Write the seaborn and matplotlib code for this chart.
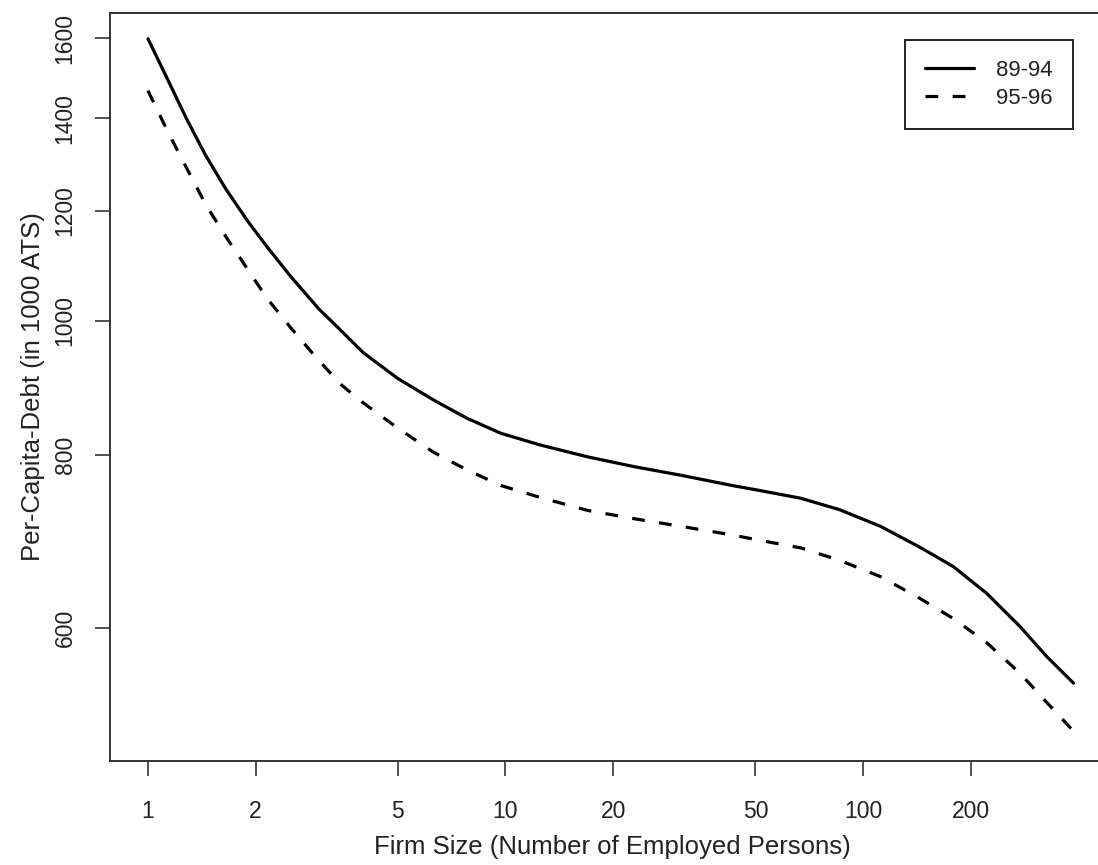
import numpy as np
import pandas as pd
import matplotlib
matplotlib.use('Agg')
import matplotlib.pyplot as plt
from matplotlib.ticker import NullLocator, FixedLocator, FixedFormatter
import seaborn as sns

# firm size (number of employed persons) at which the curves were read
firm_size = [1, 1.13, 1.28, 1.45, 1.65, 1.9, 2.15, 2.5, 3, 3.5, 4, 5, 6.3, 7.8,
             9.7, 12.5, 17, 23, 31, 43, 51, 67, 86, 112, 144, 179, 222, 275,
             326, 388]

# per-capita debt (in 1000 ATS), period 1989-1994
debt_89_94 = [1598, 1497, 1400, 1316, 1245, 1180, 1131, 1077, 1020, 981, 948,
              908, 876, 850, 829, 813, 797, 784, 773, 760, 754, 744, 730, 710,
              686, 664, 635, 601, 572, 547]

# per-capita debt (in 1000 ATS), period 1995-1996
debt_95_96 = [1466, 1373, 1290, 1213, 1150, 1089, 1038, 989, 936, 897, 872,
              836, 803, 780, 760, 745, 729, 719, 710, 700, 694, 685, 671, 653,
              630, 609, 585, 556, 530, 505]

periods = ['89-94', '95-96']

x_ticks = [1, 2, 5, 10, 20, 50, 100, 200]
x_tick_labels = ['1', '2', '5', '10', '20', '50', '100', '200']
y_ticks = [600, 800, 1000, 1200, 1400, 1600]
y_tick_labels = ['600', '800', '1000', '1200', '1400', '1600']


def build_frame():
    # long format so seaborn can split the two periods by line style
    df1 = pd.DataFrame({'size': firm_size, 'debt': debt_89_94, 'period': periods[0]})
    df2 = pd.DataFrame({'size': firm_size, 'debt': debt_95_96, 'period': periods[1]})
    return pd.concat([df1, df2], ignore_index=True)


def main():
    df = build_frame()

    sns.set_style('ticks')
    plt.rcParams['font.family'] = ['Liberation Sans', 'DejaVu Sans']
    text_color = '#222222'

    fig = plt.figure(figsize=(10.98, 8.65), dpi=100)
    ax = fig.add_axes([0.1002, 0.1202, 0.9153, 0.8647])

    sns.lineplot(data=df, x='size', y='debt', style='period',
                 dashes={'89-94': '', '95-96': (4, 4.5)},
                 color='black', linewidth=2.3, ax=ax, legend=True)

    ax.set_xscale('log')
    ax.set_yscale('log')
    ax.set_xlim(0.783, 507)
    ax.set_ylim(480.5, 1668)

    ax.xaxis.set_major_locator(FixedLocator(x_ticks))
    ax.xaxis.set_major_formatter(FixedFormatter(x_tick_labels))
    ax.yaxis.set_major_locator(FixedLocator(y_ticks))
    ax.yaxis.set_major_formatter(FixedFormatter(y_tick_labels))
    ax.xaxis.set_minor_locator(NullLocator())
    ax.yaxis.set_minor_locator(NullLocator())

    ax.tick_params(axis='both', direction='out', length=11, width=1.2,
                   color='#333333', labelsize=16.5, labelcolor=text_color)
    ax.tick_params(axis='x', pad=17)
    ax.tick_params(axis='y', pad=13)
    for lab in ax.get_yticklabels():
        lab.set_rotation(90)
        lab.set_va('center')

    for side in ['left', 'bottom', 'top']:
        ax.spines[side].set_color('#333333')
        ax.spines[side].set_linewidth(1.4)
    ax.spines['right'].set_visible(False)  # box runs off the right edge

    ax.set_xlabel('Firm Size (Number of Employed Persons)', fontsize=18.5,
                  color=text_color, labelpad=9)
    ax.set_ylabel('Per-Capita-Debt (in 1000 ATS)', fontsize=18.5,
                  color=text_color, labelpad=6)

    handles, labels = ax.get_legend_handles_labels()
    leg = ax.legend(handles, labels, loc='upper right',
                    bbox_to_anchor=(1073 / 1098, 1 - 40 / 865),
                    bbox_transform=fig.transFigure, borderaxespad=0,
                    fancybox=False, framealpha=1, edgecolor='#222222',
                    fontsize=16, handlelength=2.2, handletextpad=1.0,
                    borderpad=0.9, labelspacing=0.3)
    leg.get_frame().set_linewidth(1.4)
    for t in leg.get_texts():
        t.set_color(text_color)

    fig.savefig('out.png', dpi=100)


if __name__ == "__main__":
    main()
